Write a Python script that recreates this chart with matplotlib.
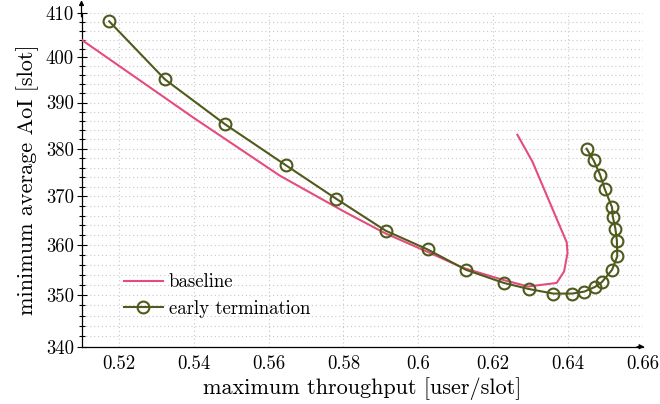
import numpy as np
import matplotlib
matplotlib.use('Agg')
import matplotlib.pyplot as plt
from matplotlib.ticker import FixedLocator, NullFormatter

plt.rcParams['font.family'] = 'serif'
plt.rcParams['font.serif'] = ['cmr10']
plt.rcParams['mathtext.fontset'] = 'cm'
plt.rcParams['axes.formatter.use_mathtext'] = True

# baseline curve
base_x = [0.5100, 0.5399, 0.5630, 0.5800, 0.5911, 0.6031, 0.6120, 0.6227, 0.6294,
          0.6370, 0.6390, 0.6399, 0.6397, 0.6305, 0.6265]
base_y = [404.0, 386.7, 374.3, 366.9, 362.4, 358.4, 355.4, 353.0, 351.7,
          352.4, 354.7, 358.4, 360.5, 377.3, 383.0]

# early termination
early_x = [0.5174, 0.5323, 0.5483, 0.5646, 0.5780, 0.5913, 0.6025, 0.6128, 0.6229,
           0.6296, 0.6361, 0.6411, 0.6444, 0.6472, 0.6490, 0.6518, 0.6532, 0.6531,
           0.6527, 0.6520, 0.6518, 0.6498, 0.6486, 0.6469, 0.6450]
early_y = [408.2, 395.1, 385.3, 376.5, 369.5, 362.9, 359.1, 355.0, 352.4,
           351.2, 350.3, 350.3, 350.7, 351.6, 352.5, 355.0, 357.7, 360.9,
           363.3, 365.8, 367.7, 371.6, 374.5, 377.5, 380.0]

x_ticks = [0.52, 0.54, 0.56, 0.58, 0.60, 0.62, 0.64, 0.66]
x_ticklabels = ['0.52', '0.54', '0.56', '0.58', '0.6', '0.62', '0.64', '0.66']
y_ticks = [340, 350, 360, 370, 380, 390, 400, 410]

pink = '#e34c7c'
olive = '#4f5a1c'

fig = plt.figure(figsize=(6.6, 4.04), dpi=100)
ax = fig.add_axes([0.1235, 0.1418, 0.8503, 0.8248])

ax.set_yscale('log')
ax.set_xlim(0.51, 0.66)
ax.set_ylim(340, 410)

ax.plot(base_x, base_y, color=pink, lw=1.5, label='baseline', zorder=3)
ax.plot(early_x, early_y, color=olive, lw=1.5, marker='o', ms=8.5, mfc='none',
        mew=1.5, label='early termination', zorder=4)

ax.xaxis.set_major_locator(FixedLocator(x_ticks))
ax.set_xticklabels(x_ticklabels)
ax.xaxis.set_minor_locator(FixedLocator([]))
ax.yaxis.set_major_locator(FixedLocator(y_ticks))
ax.set_yticklabels([str(v) for v in y_ticks])
ax.yaxis.set_minor_locator(FixedLocator([v for v in range(340, 411, 2) if v % 10]))
ax.yaxis.set_minor_formatter(NullFormatter())

ax.tick_params(axis='x', length=0, labelsize=13.5, pad=6)
ax.tick_params(axis='y', which='major', direction='inout', length=7, width=0.8, labelsize=13.5, pad=2)
ax.tick_params(axis='y', which='minor', direction='inout', length=4, width=0.8)

ax.grid(True, which='major', axis='x', color='#c8c8c8', ls=(0, (1, 2.5)), lw=0.8)
ax.grid(True, which='both', axis='y', color='#c8c8c8', ls=(0, (1, 2.5)), lw=0.8)

ax.spines['top'].set_visible(False)
ax.spines['right'].set_visible(False)
ax.spines['left'].set_bounds(340, 410)
for s in ['left', 'bottom']:
    ax.spines[s].set_linewidth(0.9)

# axis arrows
ax.annotate('', xy=(0, 1.04), xytext=(0, 0.99), xycoords='axes fraction',
            arrowprops=dict(arrowstyle='-|>', color='black', lw=0.9, mutation_scale=7,
                            shrinkA=0, shrinkB=0), annotation_clip=False)
ax.annotate('', xy=(1.003, 0), xytext=(0.99, 0), xycoords='axes fraction',
            arrowprops=dict(arrowstyle='-|>', color='black', lw=0.9, mutation_scale=7,
                            shrinkA=0, shrinkB=0), annotation_clip=False)

ax.set_xlabel('maximum throughput [user/slot]', fontsize=16, labelpad=3)
ax.set_ylabel('minimum average AoI [slot]', fontsize=16, labelpad=5)

ax.legend(loc='upper left', bbox_to_anchor=(0.075, 0.22), frameon=False, fontsize=13.5,
          handlelength=2.1, handletextpad=0.3, labelspacing=0.45, borderpad=0,
          borderaxespad=0)

fig.savefig('out.png', dpi=100)
